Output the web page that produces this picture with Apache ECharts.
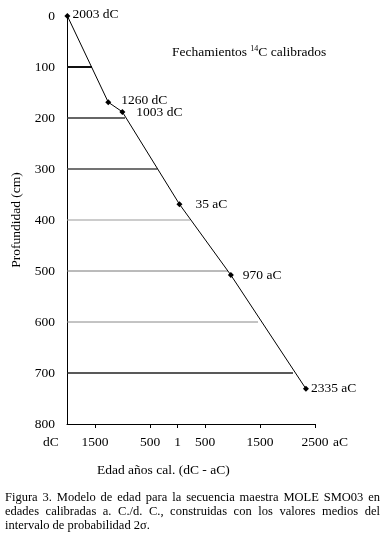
<!DOCTYPE html>
<html>
<head>
<meta charset="utf-8">
<script src="https://cdn.jsdelivr.net/npm/echarts@6/dist/echarts.min.js"></script>
<style>
html,body{margin:0;padding:0;background:#fff;}
#chart{width:385px;height:538px;}
</style>
</head>
<body>
<div id="chart"></div>
<script>
// ---- data (age: negative = dC / AD, positive = aC / BC) ----
var dateLabels = ['2003 dC', '1260 dC', '1003 dC', '35 aC', '970 aC', '2335 aC'];
var dateAges   = [-2003, -1260, -1003, 35, 970, 2335];
var dateDepths = [0, 169, 188, 369, 508, 731];

var guideDepths = [100, 200, 300, 400, 500, 600, 700];
var guideEnds   = [-1555, -955, -365, 227, 918, 1464, 2100];

var xTickValues = [-1500, -500, 0, 500, 1500, 2500];
var xTickTexts  = ['1500', '500', '1', '500', '1500', '2500'];
var yTicks      = [0, 100, 200, 300, 400, 500, 600, 700, 800];

var captionLines = [
  'Figura 3. Modelo de edad para la secuencia maestra MOLE SMO03 en',
  'edades calibradas a. C./d. C., construidas con los valores medios del',
  'intervalo de probabilidad 2σ.'
];

// ---- styles ----
var FONT = '"Liberation Serif", "Times New Roman", serif';
var FS = 13.5;
var guideColors = ['#111', '#333', '#444', '#999', '#777', '#888', '#222'];
var guideWidths = [2, 1.5, 1.3, 1, 1, 1, 1.3];
var labelDist   = [2, 10, 11, 13, 9, 2];
var labelDy     = [-2, -2, 1, 0, 0, 0];
var X_MIN = -2010, X_MAX = 2500;

var chart = echarts.init(document.getElementById('chart'), null, {renderer: 'canvas'});

var series = [];
guideDepths.forEach(function (d, i) {
  series.push({
    type: 'line',
    data: [[X_MIN, d], [guideEnds[i], d]],
    symbol: 'none',
    silent: true,
    lineStyle: {color: guideColors[i], width: guideWidths[i]},
    z: 1
  });
});
series.push({
  type: 'line',
  data: dateAges.map(function (a, i) {
    return {
      value: [a, dateDepths[i]],
      label: {distance: labelDist[i], offset: [0, labelDy[i]]}
    };
  }),
  symbol: 'diamond',
  symbolSize: 6,
  itemStyle: {color: '#000'},
  lineStyle: {color: '#000', width: 1},
  label: {
    show: true,
    position: 'right',
    color: '#000',
    fontFamily: FONT,
    fontSize: FS,
    formatter: function (p) { return dateLabels[p.dataIndex]; }
  },
  z: 3
});

// caption, justified
var graphics = [];
var ctx = document.createElement('canvas').getContext('2d');
var CAP_SIZE = 12.5;
ctx.font = CAP_SIZE + 'px ' + FONT;
var capLeft = 5, capRight = 380, capTop = [498, 512, 526];
captionLines.forEach(function (line, li) {
  var words = line.split(' ');
  var justify = li < captionLines.length - 1;
  var widths = words.map(function (w) { return ctx.measureText(w).width; });
  var total = widths.reduce(function (a, b) { return a + b; }, 0);
  var gap = justify ? (capRight - capLeft - total) / (words.length - 1) : ctx.measureText(' ').width;
  var x = capLeft;
  words.forEach(function (w, wi) {
    graphics.push({
      type: 'text', left: x, top: capTop[li] - 7,
      style: {text: w, fill: '#000', font: CAP_SIZE + 'px ' + FONT}
    });
    x += widths[wi] + gap;
  });
});

graphics.push({
  type: 'text', left: 43, top: 435,
  style: {text: 'dC', fill: '#000', font: FS + 'px ' + FONT}
});
graphics.push({
  type: 'text', left: 333, top: 435,
  style: {text: 'aC', fill: '#000', font: FS + 'px ' + FONT}
});
graphics.push({
  type: 'text', left: 97, top: 463,
  style: {text: 'Edad años cal. (dC - aC)', fill: '#000', font: FS + 'px ' + FONT}
});
graphics.push({
  type: 'text', left: 172, top: 45,
  style: {
    text: '{a|Fechamientos }{s|14}{a|C calibrados}',
    rich: {
      a: {font: FS + 'px ' + FONT, fill: '#000', verticalAlign: 'bottom'},
      s: {font: '8px ' + FONT, fill: '#000', verticalAlign: 'top', padding: [0, 0, 6, 0]}
    }
  }
});

chart.setOption({
  animation: false,
  backgroundColor: '#fff',
  grid: {left: 67, top: 16, right: 70, bottom: 114, containLabel: false},
  xAxis: {
    type: 'value',
    min: X_MIN, max: X_MAX,
    splitLine: {show: false},
    axisLine: {show: true, onZero: false, lineStyle: {color: '#000', width: 1}},
    axisTick: {show: true, inside: false, length: 4, customValues: xTickValues, lineStyle: {color: '#000'}},
    axisLabel: {
      show: true, margin: 11, customValues: xTickValues,
      color: '#000', fontFamily: FONT, fontSize: FS,
      formatter: function (v) {
        var i = xTickValues.indexOf(v);
        return i >= 0 ? xTickTexts[i] : '';
      }
    }
  },
  yAxis: {
    type: 'value',
    inverse: true,
    min: yTicks[0], max: yTicks[yTicks.length - 1], interval: 100,
    name: 'Profundidad (cm)',
    nameLocation: 'middle',
    nameRotate: 90,
    nameGap: 42,
    nameTextStyle: {color: '#000', fontFamily: FONT, fontSize: FS},
    splitLine: {show: false},
    axisLine: {show: true, onZero: false, lineStyle: {color: '#000', width: 1}},
    axisTick: {show: false},
    axisLabel: {color: '#000', fontFamily: FONT, fontSize: FS, margin: 12}
  },
  graphic: graphics,
  series: series
});
</script>
</body>
</html>
